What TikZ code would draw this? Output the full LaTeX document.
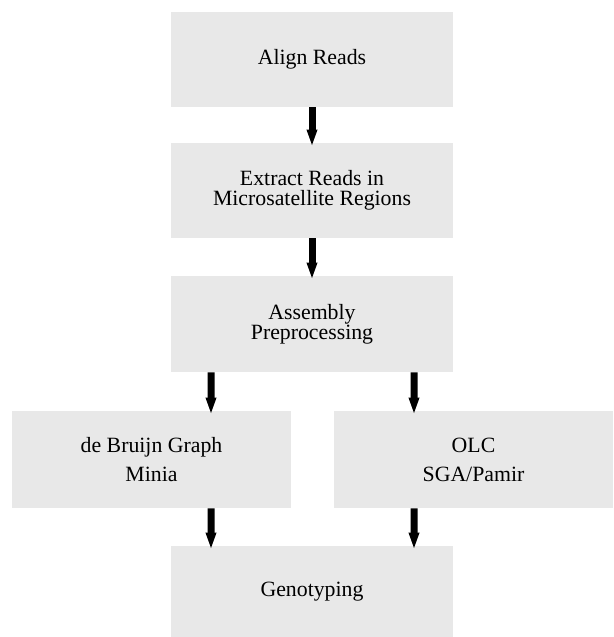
\documentclass[tikz,border=0pt]{standalone}
\usepackage{fontspec}
\setmainfont{Liberation Serif}
\usetikzlibrary{arrows.meta,positioning}
\definecolor{stagegray}{RGB}{232,232,232}

\begin{document}
\begin{tikzpicture}[>={Triangle[length=0.34cm,width=0.19cm]},
  stage/.style={fill=stagegray, minimum width=5.64cm, minimum height=1.9cm,
    inner sep=0pt, align=center, font=\fontsize{12.4}{11.5}\selectfont},
  flow/.style={->, line width=0.14cm, shorten >=-0.08cm}]
  \useasboundingbox (0,0) rectangle (12.26,-12.74);

  % Top: read extraction
  \node[stage] (align) at (6.24,-1.19) {Align Reads};
  \node[stage] (extract) at (6.24,-3.81) {Extract Reads in\\Microsatellite Regions};
  \node[stage, minimum height=1.92cm] (prep) at (6.24,-6.48) {Assembly\\Preprocessing};

  \draw[flow] (align) -- (extract);
  \draw[flow] (extract) -- (prep);

  % Middle: two assemblers
  \node[stage, minimum width=5.58cm, minimum height=1.94cm,
    font=\fontsize{12.4}{16.5}\selectfont] (dbg) at (3.03,-9.19) {de Bruijn Graph\\Minia};
  \node[stage, minimum width=5.58cm, minimum height=1.94cm,
    font=\fontsize{12.4}{16.5}\selectfont] (olc) at (9.47,-9.19) {OLC\\SGA/Pamir};

  \draw[flow] ([xshift=-2.02cm]prep.south) -- ([xshift=1.19cm]dbg.north);
  \draw[flow] ([xshift=2.04cm]prep.south) -- ([xshift=-1.19cm]olc.north);

  % Bottom: genotyping
  \node[stage, minimum height=1.82cm] (geno) at (6.24,-11.83) {Genotyping};

  \draw[flow] ([xshift=1.19cm]dbg.south) -- ([xshift=-2.02cm]geno.north);
  \draw[flow] ([xshift=-1.19cm]olc.south) -- ([xshift=2.04cm]geno.north);
\end{tikzpicture}
\end{document}
